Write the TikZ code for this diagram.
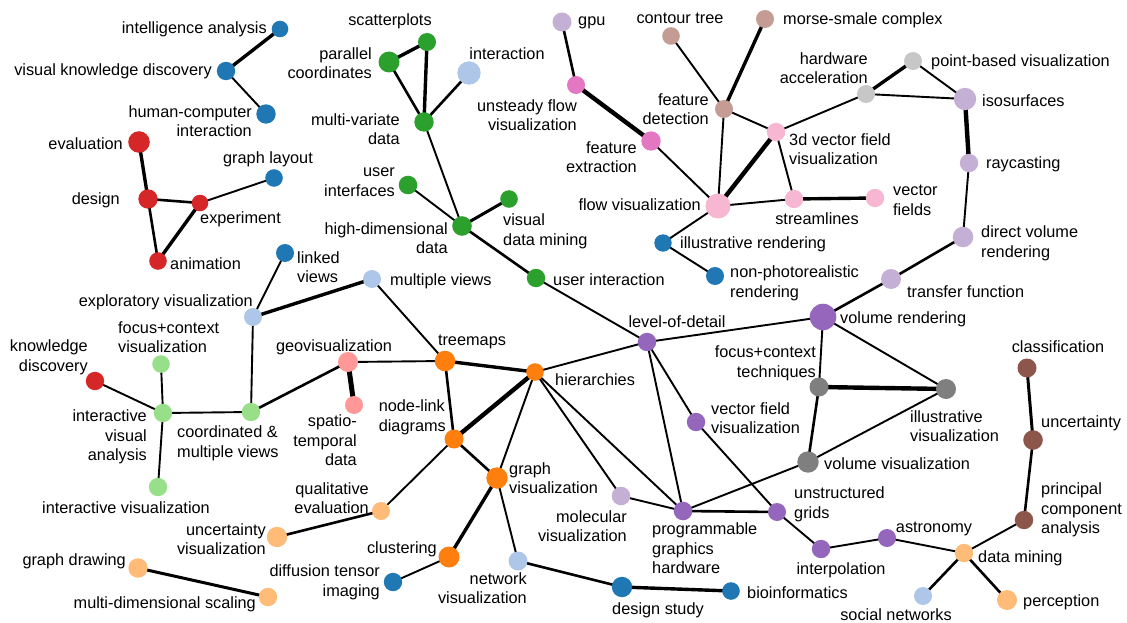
\documentclass[tikz,border=0pt]{standalone}
\usepackage{fontspec}
\setmainfont{Liberation Sans}
\usetikzlibrary{backgrounds}
\definecolor{cB}{HTML}{1F77B4}
\definecolor{cLB}{HTML}{AEC7E8}
\definecolor{cO}{HTML}{FF7F0E}
\definecolor{cLO}{HTML}{FFBB78}
\definecolor{cG}{HTML}{2CA02C}
\definecolor{cLG}{HTML}{98DF8A}
\definecolor{cR}{HTML}{D62728}
\definecolor{cLR}{HTML}{FF9896}
\definecolor{cP}{HTML}{9467BD}
\definecolor{cLP}{HTML}{C5B0D5}
\definecolor{cBr}{HTML}{8C564B}
\definecolor{cLBr}{HTML}{C49C94}
\definecolor{cPk}{HTML}{E377C2}
\definecolor{cLPk}{HTML}{F7B6D2}
\definecolor{cGy}{HTML}{7F7F7F}
\definecolor{cLGy}{HTML}{C7C7C7}
\tikzset{
  vtx/.style={circle, inner sep=0pt, draw=none, minimum size=18pt},
  rad/.style={minimum size=2*#1 pt},
  lbl/.style={inner sep=0pt, text=black, yshift=-1.2pt, font=\fontsize{16.3}{19.5}\selectfont},
  ethin/.style={line width=1.9pt},
  emed/.style={line width=2.6pt},
  ethick/.style={line width=3.4pt},
  exthick/.style={line width=4.4pt},
}
\begin{document}
\begin{tikzpicture}[x=1pt,y=-1pt]
\useasboundingbox (0,0) rectangle (1127,623);
% ---------- vertices
\node[vtx,fill=cB,rad=8.3] (ia) at (280,29) {};
\node[vtx,fill=cB,rad=9.2] (vkd) at (226,71) {};
\node[vtx,fill=cB,rad=9.7] (hci) at (266,114) {};
\node[vtx,fill=cR,rad=10.8] (eval) at (139,142) {};
\node[vtx,fill=cR,rad=9.7] (design) at (148,199) {};
\node[vtx,fill=cR,rad=8.3] (exper) at (200,203) {};
\node[vtx,fill=cB,rad=8.8] (glay) at (274,178) {};
\node[vtx,fill=cR,rad=8.8] (anim) at (158,261) {};
\node[vtx,fill=cB,rad=9] (linked) at (285,253) {};
\node[vtx,fill=cG,rad=9] (scat) at (427,42) {};
\node[vtx,fill=cG,rad=10.5] (parc) at (389,62) {};
\node[vtx,fill=cLB,rad=11.7] (inter) at (469,73) {};
\node[vtx,fill=cG,rad=9.7] (mvd) at (424,122) {};
\node[vtx,fill=cG,rad=9.3] (uif) at (408,185) {};
\node[vtx,fill=cG,rad=8.8] (vdm) at (509,199) {};
\node[vtx,fill=cG,rad=9.8] (hdd) at (462,226) {};
\node[vtx,fill=cG,rad=9.2] (uint) at (536,278) {};
\node[vtx,fill=cLP,rad=9.5] (gpu) at (562,22) {};
\node[vtx,fill=cPk,rad=9] (ufv) at (576,85) {};
\node[vtx,fill=cPk,rad=9.7] (fext) at (651,141) {};
\node[vtx,fill=cLBr,rad=8.8] (ctree) at (671,36) {};
\node[vtx,fill=cLBr,rad=9] (fdet) at (724,109) {};
\node[vtx,fill=cLPk,rad=12.5] (flowv) at (718,206) {};
\node[vtx,fill=cB,rad=8.7] (irend) at (663,243) {};
\node[vtx,fill=cB,rad=9] (npr) at (715,276) {};
\node[vtx,fill=cLBr,rad=9] (morse) at (765,19) {};
\node[vtx,fill=cLGy,rad=9] (hwacc) at (866,94) {};
\node[vtx,fill=cLGy,rad=9] (pbv) at (913,61) {};
\node[vtx,fill=cLP,rad=11.2] (iso) at (965,99) {};
\node[vtx,fill=cLPk,rad=9.2] (v3d) at (776,132) {};
\node[vtx,fill=cLP,rad=9.2] (ray) at (969,163) {};
\node[vtx,fill=cLPk,rad=9.2] (stream) at (794,199) {};
\node[vtx,fill=cLPk,rad=9.2] (vfields) at (875,198) {};
\node[vtx,fill=cLP,rad=10.3] (dvr) at (963,237) {};
\node[vtx,fill=cLP,rad=10] (tf) at (891,279) {};
\node[vtx,fill=cLB,rad=9] (expl) at (253,317) {};
\node[vtx,fill=cLG,rad=8.8] (fcv) at (161,364) {};
\node[vtx,fill=cR,rad=9.2] (kd) at (95,381) {};
\node[vtx,fill=cLG,rad=9.2] (iva) at (163,413) {};
\node[vtx,fill=cLG,rad=9.2] (cmv) at (251,412) {};
\node[vtx,fill=cLR,rad=10] (geo) at (348,362) {};
\node[vtx,fill=cLR,rad=9] (spt) at (354,405) {};
\node[vtx,fill=cLG,rad=9.2] (ivis) at (158,487) {};
\node[vtx,fill=cLO,rad=9] (qeval) at (381,511) {};
\node[vtx,fill=cLO,rad=10.2] (uvis) at (277,537) {};
\node[vtx,fill=cLO,rad=9.7] (gdraw) at (138,568) {};
\node[vtx,fill=cLO,rad=9.2] (mds) at (268,597) {};
\node[vtx,fill=cB,rad=9.2] (dti) at (393,582) {};
\node[vtx,fill=cLB,rad=9] (mviews) at (372,279) {};
\node[vtx,fill=cO,rad=10.3] (tree) at (445,361) {};
\node[vtx,fill=cO,rad=8.8] (hier) at (535,372) {};
\node[vtx,fill=cO,rad=9.5] (nld) at (454,439) {};
\node[vtx,fill=cO,rad=10.7] (gvis) at (497,478) {};
\node[vtx,fill=cLP,rad=9.3] (mol) at (621,496) {};
\node[vtx,fill=cP,rad=9.3] (prog) at (683,511) {};
\node[vtx,fill=cP,rad=9.2] (lod) at (647,342) {};
\node[vtx,fill=cP,rad=9.2] (vfv) at (696,422) {};
\node[vtx,fill=cO,rad=10.5] (clust) at (449,557) {};
\node[vtx,fill=cLB,rad=9.5] (netv) at (518,561) {};
\node[vtx,fill=cB,rad=10.2] (dstudy) at (622,587) {};
\node[vtx,fill=cB,rad=8.8] (bio) at (731,591) {};
\node[vtx,fill=cP,rad=13.3] (vrend) at (823,317) {};
\node[vtx,fill=cGy,rad=9.5] (fct) at (819,387) {};
\node[vtx,fill=cGy,rad=10] (ivisu) at (946,389) {};
\node[vtx,fill=cGy,rad=10.7] (vvis) at (808,462) {};
\node[vtx,fill=cP,rad=9] (ugrid) at (777,512) {};
\node[vtx,fill=cP,rad=9.2] (interp) at (821,549) {};
\node[vtx,fill=cP,rad=9] (astro) at (887,538) {};
\node[vtx,fill=cLO,rad=9.2] (dmin) at (964,553) {};
\node[vtx,fill=cLB,rad=9] (socn) at (923,596) {};
\node[vtx,fill=cLO,rad=10] (perc) at (1007,600) {};
\node[vtx,fill=cBr,rad=9.5] (class) at (1027,368) {};
\node[vtx,fill=cBr,rad=9.8] (uncert) at (1033,440) {};
\node[vtx,fill=cBr,rad=9.2] (pca) at (1024,520) {};
% ---------- edges
\begin{scope}[on background layer]
\draw[ethick] (ia.center) -- (vkd.center);
\draw[ethin] (vkd.center) -- (hci.center);
\draw[ethick] (eval.center) -- (design.center);
\draw[emed] (design.center) -- (exper.center);
\draw[emed] (design.center) -- (anim.center);
\draw[ethick] (exper.center) -- (anim.center);
\draw[ethin] (exper.center) -- (glay.center);
\draw[ethick] (scat.center) -- (parc.center);
\draw[ethick] (scat.center) -- (mvd.center);
\draw[emed] (parc.center) -- (mvd.center);
\draw[emed] (inter.center) -- (mvd.center);
\draw[ethin] (mvd.center) -- (hdd.center);
\draw[ethin] (uif.center) -- (hdd.center);
\draw[line width=3pt] (vdm.center) -- (hdd.center);
\draw[emed] (hdd.center) -- (uint.center);
\draw[ethin] (uint.center) -- (lod.center);
\draw[emed] (gpu.center) -- (ufv.center);
\draw[exthick] (ufv.center) -- (fext.center);
\draw[ethin] (fext.center) -- (flowv.center);
\draw[ethin] (ctree.center) -- (fdet.center);
\draw[ethick] (morse.center) -- (fdet.center);
\draw[ethin] (fdet.center) -- (flowv.center);
\draw[ethin] (fdet.center) -- (v3d.center);
\draw[exthick] (flowv.center) -- (v3d.center);
\draw[ethin] (flowv.center) -- (stream.center);
\draw[ethin] (flowv.center) -- (irend.center);
\draw[ethin] (irend.center) -- (npr.center);
\draw[ethin] (v3d.center) -- (hwacc.center);
\draw[ethin] (v3d.center) -- (stream.center);
\draw[ethick] (stream.center) -- (vfields.center);
\draw[ethick] (hwacc.center) -- (pbv.center);
\draw[ethin] (hwacc.center) -- (iso.center);
\draw[ethin] (pbv.center) -- (iso.center);
\draw[exthick] (iso.center) -- (ray.center);
\draw[ethin] (ray.center) -- (dvr.center);
\draw[emed] (dvr.center) -- (tf.center);
\draw[emed] (tf.center) -- (vrend.center);
\draw[ethin] (vrend.center) -- (lod.center);
\draw[ethin] (vrend.center) -- (fct.center);
\draw[ethin] (vrend.center) -- (ivisu.center);
\draw[exthick] (fct.center) -- (ivisu.center);
\draw[emed] (fct.center) -- (vvis.center);
\draw[ethin] (ivisu.center) -- (vvis.center);
\draw[ethin] (vvis.center) -- (prog.center);
\draw[emed] (prog.center) -- (ugrid.center);
\draw[ethin] (vfv.center) -- (ugrid.center);
\draw[ethin] (lod.center) -- (vfv.center);
\draw[ethin] (lod.center) -- (prog.center);
\draw[ethin] (lod.center) -- (hier.center);
\draw[ethin] (hier.center) -- (prog.center);
\draw[ethin] (hier.center) -- (mol.center);
\draw[ethin] (mol.center) -- (prog.center);
\draw[ethick] (hier.center) -- (tree.center);
\draw[exthick] (hier.center) -- (nld.center);
\draw[ethin] (hier.center) -- (gvis.center);
\draw[emed] (tree.center) -- (nld.center);
\draw[ethin] (tree.center) -- (geo.center);
\draw[ethin] (tree.center) -- (mviews.center);
\draw[emed] (nld.center) -- (gvis.center);
\draw[ethin] (nld.center) -- (qeval.center);
\draw[ethick] (gvis.center) -- (clust.center);
\draw[ethin] (gvis.center) -- (netv.center);
\draw[ethin] (clust.center) -- (dti.center);
\draw[emed] (netv.center) -- (dstudy.center);
\draw[ethick] (dstudy.center) -- (bio.center);
\draw[emed] (qeval.center) -- (uvis.center);
\draw[line width=3pt] (gdraw.center) -- (mds.center);
\draw[line width=5pt] (geo.center) -- (spt.center);
\draw[emed] (geo.center) -- (cmv.center);
\draw[ethin] (cmv.center) -- (expl.center);
\draw[ethin] (cmv.center) -- (iva.center);
\draw[ethin] (expl.center) -- (linked.center);
\draw[ethick] (expl.center) -- (mviews.center);
\draw[ethin] (iva.center) -- (fcv.center);
\draw[ethin] (iva.center) -- (kd.center);
\draw[ethin] (iva.center) -- (ivis.center);
\draw[ethin] (interp.center) -- (ugrid.center);
\draw[ethin] (interp.center) -- (astro.center);
\draw[ethin] (astro.center) -- (dmin.center);
\draw[emed] (dmin.center) -- (socn.center);
\draw[emed] (dmin.center) -- (perc.center);
\draw[ethin] (dmin.center) -- (pca.center);
\draw[emed] (pca.center) -- (uncert.center);
\draw[line width=3pt] (uncert.center) -- (class.center);
\end{scope}
% ---------- labels
\node[lbl,anchor=east] (t-ia) at (267,28) {intelligence analysis};
\node[lbl,anchor=east] (t-vkd) at (212,70) {visual knowledge discovery};
\node[lbl,anchor=east,align=right] (t-hci) at (252,120) {human-computer\\interaction};
\node[lbl,anchor=east] (t-eval) at (123,142) {evaluation};
\node[lbl,anchor=east] (t-design) at (120,199) {design};
\node[lbl,anchor=west] (t-exper) at (200,218) {experiment};
\node[lbl] (t-glay) at (268,158) {graph layout};
\node[lbl,anchor=west] (t-anim) at (170,262) {animation};
\node[lbl,anchor=west,align=left] (t-linked) at (297,266) {linked\\views};
\node[lbl] (t-scat) at (390,20) {scatterplots};
\node[lbl,anchor=east,align=right] (t-parc) at (372,62) {parallel\\coordinates};
\node[lbl] (t-inter) at (507,52) {interaction};
\node[lbl,anchor=east,align=right] (t-mvd) at (400,128) {multi-variate\\data};
\node[lbl,anchor=east,align=right] (t-uif) at (395,181) {user\\interfaces};
\node[lbl,anchor=west,align=left] (t-vdm) at (503,230) {visual\\data mining};
\node[lbl,anchor=east,align=right] (t-hdd) at (448,237) {high-dimensional\\data};
\node[lbl,anchor=west] (t-uint) at (553,278) {user interaction};
\node[lbl,anchor=west] (t-gpu) at (578,22) {gpu};
\node[lbl,anchor=east,align=right] (t-ufv) at (577,114) {unsteady flow\\visualization};
\node[lbl,anchor=east,align=right] (t-fext) at (637,156) {feature\\extraction};
\node[lbl] (t-ctree) at (680,17) {contour tree};
\node[lbl,anchor=east,align=right] (t-fdet) at (709,108) {feature\\detection};
\node[lbl,anchor=east] (t-flowv) at (701,203) {flow visualization};
\node[lbl,anchor=west] (t-irend) at (680,243) {illustrative rendering};
\node[lbl,anchor=west,align=left] (t-npr) at (730,282) {non-photorealistic\\rendering};
\node[lbl,anchor=west] (t-morse) at (783,19) {morse-smale complex};
\node[lbl,anchor=east,align=right] (t-hwacc) at (868,67) {hardware\\acceleration};
\node[lbl,anchor=west] (t-pbv) at (931,61) {point-based visualization};
\node[lbl,anchor=west] (t-iso) at (982,99) {isosurfaces};
\node[lbl,anchor=west,align=left] (t-v3d) at (789,148) {3d vector field\\visualization};
\node[lbl,anchor=west] (t-ray) at (986,163) {raycasting};
\node[lbl] (t-stream) at (817,217) {streamlines};
\node[lbl,anchor=west,align=left] (t-vfields) at (893,199) {vector\\fields};
\node[lbl,anchor=west,align=left] (t-dvr) at (981,242) {direct volume\\rendering};
\node[lbl,anchor=west] (t-tf) at (907,290) {transfer function};
\node[lbl,anchor=east] (t-expl) at (253,301) {exploratory visualization};
\node[lbl,anchor=west,align=left] (t-fcv) at (118,336) {focus+context\\visualization};
\node[lbl,anchor=east,align=right] (t-kd) at (88,356) {knowledge\\discovery};
\node[lbl,anchor=east,align=right] (t-iva) at (147,436) {interactive\\visual\\analysis};
\node[lbl,anchor=west,align=left] (t-cmv) at (177,442) {coordinated \&\\multiple views};
\node[lbl] (t-geo) at (334,346) {geovisualization};
\node[lbl,anchor=east,align=right] (t-spt) at (357,439) {spatio-\\temporal\\data};
\node[lbl] (t-ivis) at (126,506) {interactive visualization};
\node[lbl,anchor=east,align=right] (t-qeval) at (369,497) {qualitative\\evaluation};
\node[lbl,anchor=east,align=right] (t-uvis) at (266,538) {uncertainty\\visualization};
\node[lbl,anchor=east] (t-gdraw) at (126,560) {graph drawing};
\node[lbl,anchor=east] (t-mds) at (256,603) {multi-dimensional scaling};
\node[lbl,anchor=east,align=right] (t-dti) at (380,581) {diffusion tensor\\imaging};
\node[lbl,anchor=west] (t-mviews) at (390,280) {multiple views};
\node[lbl] (t-tree) at (472,341) {treemaps};
\node[lbl,anchor=west] (t-hier) at (555,378) {hierarchies};
\node[lbl,anchor=east,align=left] (t-nld) at (446,416) {node-link\\diagrams};
\node[lbl,anchor=west,align=left] (t-gvis) at (509,477) {graph\\visualization};
\node[lbl,anchor=east,align=right] (t-mol) at (627,525) {molecular\\visualization};
\node[lbl,anchor=west,align=left] (t-prog) at (652,547) {programmable\\graphics\\hardware};
\node[lbl] (t-lod) at (677,320) {level-of-detail};
\node[lbl,anchor=west,align=left] (t-vfv) at (711,417) {vector field\\visualization};
\node[lbl,anchor=east] (t-clust) at (437,548) {clustering};
\node[lbl,anchor=east,align=right] (t-netv) at (527,587) {network\\visualization};
\node[lbl] (t-dstudy) at (658,609) {design study};
\node[lbl,anchor=west] (t-bio) at (747,591) {bioinformatics};
\node[lbl,anchor=west] (t-vrend) at (840,318) {volume rendering};
\node[lbl,anchor=east,align=right] (t-fct) at (816,362) {focus+context\\techniques};
\node[lbl,anchor=west,align=left] (t-ivisu) at (910,425) {illustrative\\visualization};
\node[lbl,anchor=west] (t-vvis) at (824,462) {volume visualization};
\node[lbl,anchor=west,align=left] (t-ugrid) at (794,503) {unstructured\\grids};
\node[lbl] (t-interp) at (841,569) {interpolation};
\node[lbl] (t-astro) at (934,528) {astronomy};
\node[lbl,anchor=west] (t-dmin) at (978,557) {data mining};
\node[lbl] (t-socn) at (896,613) {social networks};
\node[lbl,anchor=west] (t-perc) at (1023,601) {perception};
\node[lbl] (t-class) at (1058,345) {classification};
\node[lbl,anchor=west] (t-uncert) at (1041,422) {uncertainty};
\node[lbl,anchor=west,align=left] (t-pca) at (1041,509) {principal\\component\\analysis};
\end{tikzpicture}
\end{document}
